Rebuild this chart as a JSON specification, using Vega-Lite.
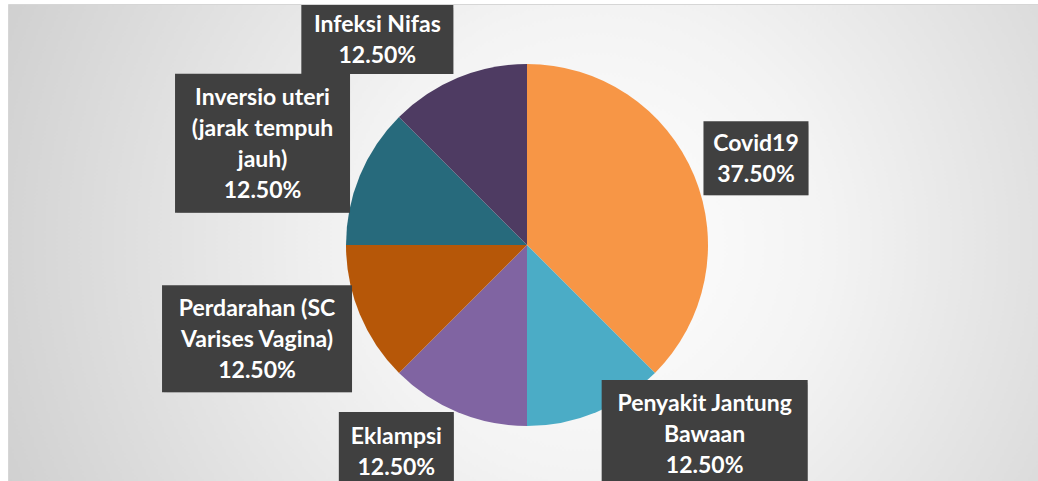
{
  "$schema": "https://vega.github.io/schema/vega-lite/v6.json",
  "width": 1030,
  "height": 477,
  "autosize": {"type": "none"},
  "padding": {"left": 8, "top": 4, "right": 0, "bottom": 0},
  "background": "#ffffff",
  "view": {
    "fill": {
      "gradient": "radial",
      "x1": 0.57, "y1": 0.5, "r1": 0,
      "x2": 0.57, "y2": 0.5, "r2": 0.76,
      "stops": [
        {"offset": 0, "color": "#ffffff"},
        {"offset": 0.3, "color": "#f3f3f3"},
        {"offset": 1, "color": "#c3c3c3"}
      ]
    },
    "stroke": "#d6d6d6"
  },
  "data": {
    "values": [
      {"cause": "Covid19", "label": "Covid19", "deaths": 3},
      {"cause": "Penyakit Jantung Bawaan", "label": "Penyakit Jantung\nBawaan", "deaths": 1},
      {"cause": "Eklampsi", "label": "Eklampsi", "deaths": 1},
      {"cause": "Perdarahan (SC Varises Vagina)", "label": "Perdarahan (SC\nVarises Vagina)", "deaths": 1},
      {"cause": "Inversio uteri (jarak tempuh jauh)", "label": "Inversio uteri\n(jarak tempuh\njauh)", "deaths": 1},
      {"cause": "Infeksi Nifas", "label": "Infeksi Nifas", "deaths": 1}
    ]
  },
  "transform": [
    {"window": [{"op": "row_number", "as": "idx"}, {"op": "sum", "field": "deaths", "as": "cum"}], "frame": [null, 0]},
    {"joinaggregate": [{"op": "sum", "field": "deaths", "as": "total"}]},
    {"calculate": "2*PI*(datum.cum - datum.deaths/2)/datum.total", "as": "mid"},
    {"calculate": "datum.label + '\\n' + format(datum.deaths/datum.total, '.2%')", "as": "text"},
    {"calculate": "length(split(datum.text, '\\n'))", "as": "nlines"},
    {"calculate": "250*sin(datum.mid) + [-2, 82, -35, -39, -33.5, -54][datum.idx-1]", "as": "lx"},
    {"calculate": "250*cos(datum.mid) - [9, -42, -24, -2, -6, 25.5][datum.idx-1]", "as": "ly"},
    {"calculate": "datum.ly + (datum.nlines - 1) * 15.5", "as": "ty"},
    {"calculate": "[105, 206, 115, 190, 175, 152][datum.idx-1]", "as": "bw"},
    {"calculate": "[74, 108, 80, 107, 139, 69][datum.idx-1]", "as": "bh"},
    {"calculate": "datum.lx - datum.bw/2", "as": "bx1"},
    {"calculate": "datum.lx + datum.bw/2", "as": "bx2"},
    {"calculate": "datum.ly + datum.bh/2", "as": "by1"},
    {"calculate": "datum.ly - datum.bh/2", "as": "by2"}
  ],
  "layer": [
    {
      "mark": {"type": "arc", "outerRadius": 181, "xOffset": 4, "yOffset": 2.5},
      "encoding": {
        "theta": {"field": "deaths", "type": "quantitative", "stack": true},
        "order": {"field": "idx", "type": "quantitative"},
        "color": {
          "field": "cause",
          "type": "nominal",
          "scale": {
            "domain": ["Covid19", "Penyakit Jantung Bawaan", "Eklampsi", "Perdarahan (SC Varises Vagina)", "Inversio uteri (jarak tempuh jauh)", "Infeksi Nifas"],
            "range": ["#F79646", "#4BACC6", "#8064A2", "#B65708", "#276A7C", "#4E3B62"]
          },
          "legend": null
        }
      }
    },
    {
      "mark": {"type": "rect", "color": "#000000", "opacity": 0.12, "xOffset": 5, "yOffset": 5},
      "encoding": {
        "x": {"field": "bx1", "type": "quantitative", "scale": {"domain": [-519, 511], "nice": false, "zero": false}, "axis": null},
        "x2": {"field": "bx2"},
        "y": {"field": "by1", "type": "quantitative", "scale": {"domain": [-236, 241], "nice": false, "zero": false}, "axis": null},
        "y2": {"field": "by2"}
      }
    },
    {
      "mark": {"type": "rect", "color": "#000000", "opacity": 0.18, "xOffset": 2, "yOffset": 3},
      "encoding": {
        "x": {"field": "bx1", "type": "quantitative", "scale": {"domain": [-519, 511], "nice": false, "zero": false}, "axis": null},
        "x2": {"field": "bx2"},
        "y": {"field": "by1", "type": "quantitative", "scale": {"domain": [-236, 241], "nice": false, "zero": false}, "axis": null},
        "y2": {"field": "by2"}
      }
    },
    {
      "mark": {"type": "rect", "color": "#404040", "opacity": 1},
      "encoding": {
        "x": {"field": "bx1", "type": "quantitative", "scale": {"domain": [-519, 511], "nice": false, "zero": false}, "axis": null},
        "x2": {"field": "bx2"},
        "y": {"field": "by1", "type": "quantitative", "scale": {"domain": [-236, 241], "nice": false, "zero": false}, "axis": null},
        "y2": {"field": "by2"}
      }
    },
    {
      "mark": {
        "type": "text",
        "font": "Lato",
        "fontWeight": "bold",
        "fontSize": 23,
        "color": "#ffffff",
        "lineBreak": "\n",
        "lineHeight": 31,
        "align": "center",
        "baseline": "middle",
        "dy": 1
      },
      "encoding": {
        "x": {"field": "lx", "type": "quantitative", "scale": {"domain": [-519, 511], "nice": false, "zero": false}, "axis": null},
        "y": {"field": "ty", "type": "quantitative", "scale": {"domain": [-236, 241], "nice": false, "zero": false}, "axis": null},
        "text": {"field": "text", "type": "nominal"}
      }
    }
  ]
}
